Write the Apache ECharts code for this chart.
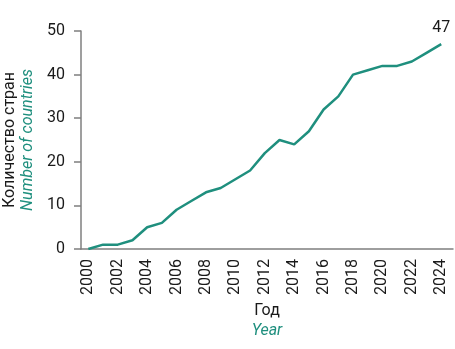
<!DOCTYPE html>
<html>
<head>
<meta charset="utf-8">
<script src="https://cdn.jsdelivr.net/npm/echarts@6/dist/echarts.min.js"></script>
<style>
html,body{margin:0;padding:0;background:#fff;}
#chart{width:455px;height:349px;}
</style>
</head>
<body>
<div id="chart"></div>
<script>
const years = [2000,2001,2002,2003,2004,2005,2006,2007,2008,2009,2010,2011,2012,2013,2014,2015,2016,2017,2018,2019,2020,2021,2022,2023,2024];
const countries = [0,1,1,2,5,6,9,11,13,14,16,18,22,25,24,27,32,35,40,41,42,42,43,45,47];
const xTickLabels = [2000,2002,2004,2006,2008,2010,2012,2014,2016,2018,2020,2022,2024];
const yTicks = [0,10,20,30,40,50];

const teal = '#1f8f7e';
const dark = '#1a1a1a';
const font = 'Roboto';

const chart = echarts.init(document.getElementById('chart'));
chart.setOption({
  animation: false,
  grid: {left: 81, right: 2, top: 31, bottom: 100, containLabel: false, outerBoundsMode: 'none'},
  xAxis: {
    type: 'value',
    min: 1999.5,
    max: 2024.8,
    splitLine: {show: false},
    axisTick: {show: false},
    axisLine: {lineStyle: {color: '#7f7f7f', width: 1.5}},
    axisLabel: {
      customValues: xTickLabels,
      rotate: 90,
      margin: 10,
      fontSize: 16,
      fontFamily: font,
      color: dark,
      formatter: v => String(v)
    },
    name: '{a|Год}\n{b|Year}',
    nameLocation: 'middle',
    nameGap: 48,
    nameTextStyle: {
      rich: {
        a: {fontSize: 16, fontFamily: font, color: dark, lineHeight: 20},
        b: {fontSize: 16, fontFamily: font, color: teal, fontStyle: 'italic', lineHeight: 20}
      }
    }
  },
  yAxis: {
    type: 'value',
    min: 0,
    max: 50,
    interval: 10,
    splitLine: {show: false},
    axisTick: {show: true, length: 7, lineStyle: {color: '#7f7f7f', width: 1.5}},
    axisLine: {show: true, lineStyle: {color: '#7f7f7f', width: 1.5}},
    axisLabel: {
      margin: 16,
      fontSize: 16,
      fontFamily: font,
      color: dark,
      customValues: yTicks
    },
    name: '{a|Количество стран}\n{b|Number of countries}',
    nameLocation: 'middle',
    nameGap: 44,
    nameRotate: 90,
    nameTextStyle: {
      rich: {
        a: {fontSize: 16, fontFamily: font, color: dark, lineHeight: 18},
        b: {fontSize: 16, fontFamily: font, color: teal, fontStyle: 'italic', lineHeight: 18}
      }
    }
  },
  series: [{
    type: 'line',
    data: years.map((y, i) => [y, countries[i]]),
    showSymbol: false,
    symbol: 'none',
    lineStyle: {color: teal, width: 2.5},
    itemStyle: {color: teal},
    markPoint: {
      symbol: 'circle',
      symbolSize: 0,
      data: [{coord: [years[years.length - 1], countries[countries.length - 1]], value: countries[countries.length - 1]}],
      label: {show: true, position: 'top', distance: 8, fontSize: 16, fontFamily: font, color: dark}
    }
  }]
});
</script>
</body>
</html>
